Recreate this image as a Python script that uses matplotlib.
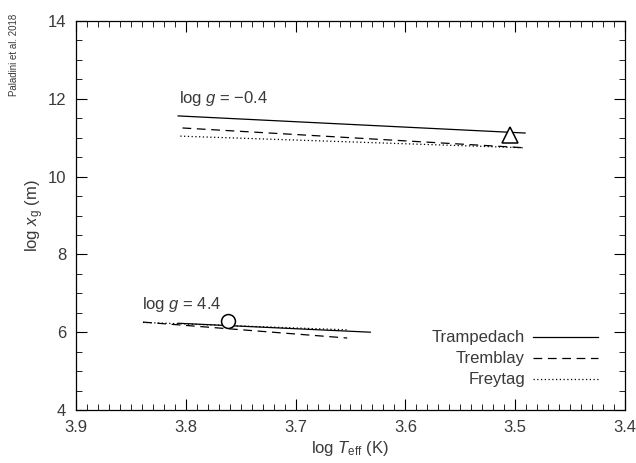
import matplotlib
matplotlib.use("Agg")
import matplotlib.pyplot as plt
from matplotlib.ticker import MultipleLocator

plt.rcParams['font.family'] = ['Liberation Sans', 'DejaVu Sans']
plt.rcParams['mathtext.fontset'] = 'custom'
plt.rcParams['mathtext.rm'] = 'Liberation Sans'
plt.rcParams['mathtext.it'] = 'Liberation Sans:italic'
plt.rcParams['mathtext.sf'] = 'Liberation Sans'
TXT = '#3a3a3a'

# Upper group: log g = -0.4
hi_tramp_x = [3.807, 3.491]
hi_tramp_y = [11.56, 11.12]
hi_trem_x = [3.803, 3.491]
hi_trem_y = [11.25, 10.74]
hi_frey_x = [3.805, 3.491]
hi_frey_y = [11.04, 10.74]
hi_star_x = [3.505]
hi_star_y = [11.07]

# Lower group: log g = 4.4
lo_tramp_x = [3.807, 3.632]
lo_tramp_y = [6.23, 6.00]
lo_trem_x = [3.839, 3.653]
lo_trem_y = [6.26, 5.85]
lo_frey_x = [3.839, 3.652]
lo_frey_y = [6.25, 6.06]
lo_star_x = [3.762]
lo_star_y = [6.29]

DASH = (0, (7, 4.5))
DOT = (0, (1, 2))
legend_labels = ['Trampedach', 'Tremblay', 'Freytag']
legend_styles = ['-', DASH, DOT]

fig = plt.figure(figsize=(6.36, 4.63), dpi=100)
ax = fig.add_axes([76/636, 1 - 410/463, (625-76)/636, (410-21)/463])

lw = 0.9
ax.plot(hi_tramp_x, hi_tramp_y, '-', color='k', lw=lw)
ax.plot(hi_trem_x, hi_trem_y, color='k', lw=lw, linestyle=DASH)
ax.plot(hi_frey_x, hi_frey_y, color='k', lw=lw, linestyle=DOT)
ax.plot(hi_star_x, hi_star_y, marker='^', ms=11, mfc='white', mec='k', mew=1.1, ls='none')

ax.plot(lo_tramp_x, lo_tramp_y, '-', color='k', lw=lw)
ax.plot(lo_trem_x, lo_trem_y, color='k', lw=lw, linestyle=DASH)
ax.plot(lo_frey_x, lo_frey_y, color='k', lw=lw, linestyle=DOT)
ax.plot(lo_star_x, lo_star_y, marker='o', ms=10, mfc='white', mec='k', mew=1.1, ls='none', zorder=5)

ax.text(3.806, 12.0, r'log $g$ = $-$0.4', fontsize=12, color=TXT, va='center', ha='left')
ax.text(3.840, 6.72, r'log $g$ = 4.4', fontsize=12, color=TXT, va='center', ha='left')

# manual legend (axes coordinates)
leg_y = [0.187, 0.133, 0.079]
for lab, st, yy in zip(legend_labels, legend_styles, leg_y):
    ax.text(0.818, yy, lab, transform=ax.transAxes, fontsize=12, color=TXT,
            ha='right', va='center')
    ax.plot([0.832, 0.95], [yy, yy], transform=ax.transAxes, color='k', lw=lw, linestyle=st)

ax.set_xlim(3.9, 3.4)
ax.set_ylim(4, 14)
ax.xaxis.set_major_locator(MultipleLocator(0.1))
ax.xaxis.set_minor_locator(MultipleLocator(0.01))
ax.yaxis.set_major_locator(MultipleLocator(2))
ax.yaxis.set_minor_locator(MultipleLocator(0.5))
ax.tick_params(which='both', direction='in', top=True, right=True, colors='k', labelcolor=TXT, labelsize=12)
ax.tick_params(which='major', length=8, width=0.8)
ax.tick_params(which='minor', length=4, width=0.6)
ax.tick_params(axis='x', which='major', pad=7)
ax.tick_params(axis='y', which='major', pad=7)
ax.xaxis.set_major_formatter(matplotlib.ticker.FormatStrFormatter('%.1f'))
for s in ax.spines.values():
    s.set_linewidth(0.9)

ax.set_xlabel(r'log $T_{\rm eff}$ (K)', fontsize=12, color=TXT, labelpad=3)
ax.set_ylabel(r'log $x_{\rm g}$ (m)', fontsize=12, color=TXT, labelpad=1)

fig.text(14/636, 1 - 55/463, 'Paladini et al. 2018', rotation=90, fontsize=7,
         color=TXT, ha='center', va='center')

fig.savefig('out.png', dpi=100)
